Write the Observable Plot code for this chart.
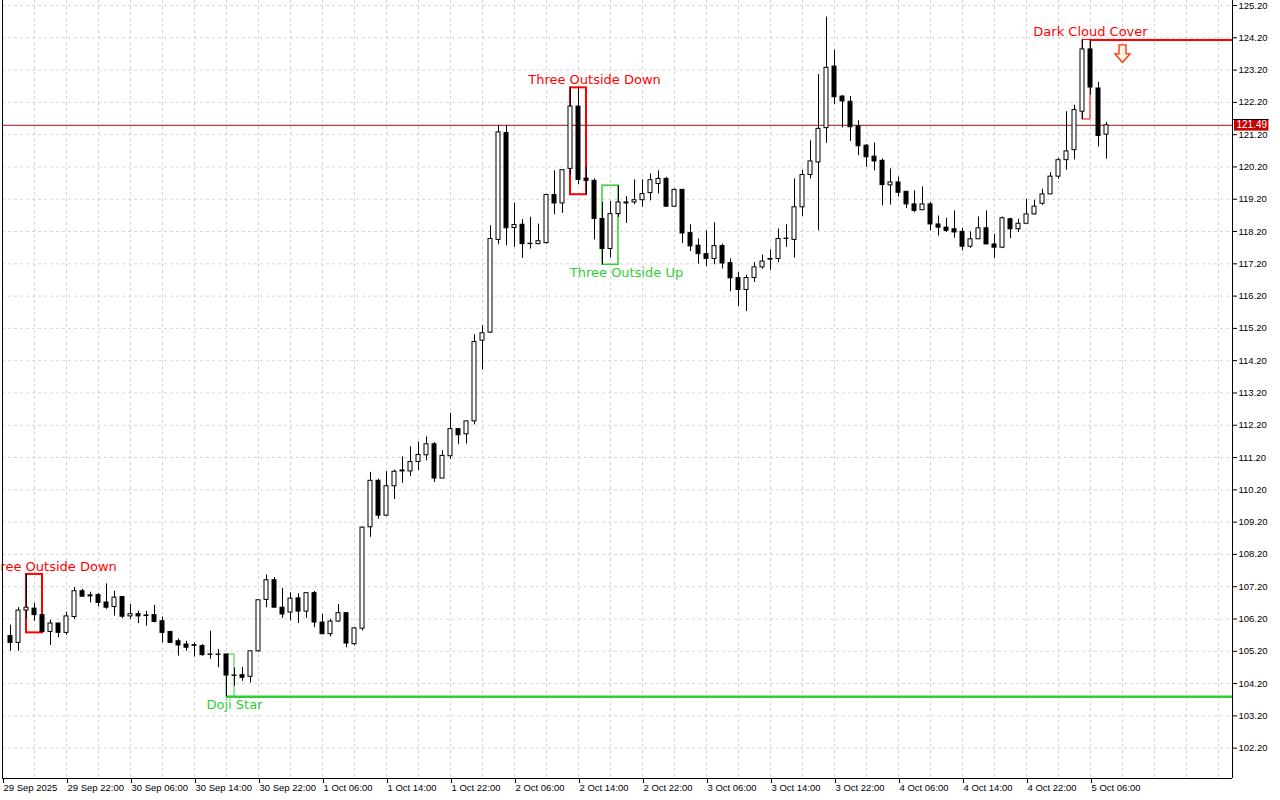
<!DOCTYPE html>
<html><head><meta charset="utf-8">
<script src="https://cdn.jsdelivr.net/npm/d3@7"></script>
<script src="https://cdn.jsdelivr.net/npm/@observablehq/plot@0.6"></script>
<style>html,body{margin:0;padding:0;background:#fff;} #chart svg{display:block;background:#fff}</style>
</head><body><div id="chart"></div>
<script>
// hourly candles, index 0 = 29 Sep 2025 14:00 (first visible = index 1)
const firstIndex = 1;
const opens = [105.67,105.46,106.46,106.52,106.32,105.80,106.06,105.77,106.26,107.06,106.93,106.94,106.71,106.57,106.88,106.28,106.35,106.31,106.32,106.13,105.80,105.51,105.41,105.39,105.36,105.10,105.10,105.10,104.45,104.46,104.41,105.20,106.79,107.40,106.55,106.40,106.84,106.43,107.00,106.09,105.73,106.12,106.38,105.42,105.90,109.04,110.48,109.40,110.31,110.80,110.77,111.06,111.27,111.61,110.55,111.24,112.08,111.92,112.32,114.82,115.07,117.94,121.25,118.31,118.41,117.82,117.81,117.84,119.33,119.07,120.14,122.07,119.84,119.77,118.59,117.66,118.74,119.10,119.10,119.17,119.39,119.67,119.83,118.97,119.49,118.15,117.76,117.50,117.35,117.75,117.22,116.76,116.39,116.76,117.09,117.35,117.35,117.97,117.94,118.95,119.95,120.34,121.40,123.31,122.38,122.22,121.46,120.86,120.52,120.39,119.63,119.72,119.43,119.04,118.86,119.04,118.42,118.32,118.27,118.19,117.73,117.96,118.30,117.80,117.70,118.58,118.27,118.44,118.73,119.06,119.35,119.90,120.41,120.72,121.91,123.84,122.63,121.20];
const highs = [106.01,106.55,107.58,106.68,106.35,106.16,106.06,106.41,107.17,107.12,107.03,106.99,107.29,107.06,106.88,106.65,106.44,106.44,106.62,106.26,105.80,105.58,105.51,105.46,105.41,105.82,105.25,105.10,104.69,104.70,105.20,106.78,107.56,107.48,107.15,107.01,106.98,107.00,107.05,106.34,106.19,106.65,106.40,105.93,109.05,110.74,110.53,110.76,110.81,111.22,111.53,111.68,111.84,111.66,111.41,112.57,112.08,112.33,115.00,115.28,118.38,121.48,121.48,119.08,118.57,118.64,118.43,119.35,120.08,120.10,122.65,122.65,120.19,119.83,119.10,119.13,119.62,119.28,119.80,119.80,119.98,120.08,119.88,119.52,119.49,118.41,117.97,118.22,118.47,117.81,117.35,116.93,116.85,117.24,117.47,117.63,118.28,118.41,119.83,120.10,121.01,123.06,124.84,123.82,122.41,122.38,121.63,120.89,120.94,120.45,120.14,119.89,119.43,119.46,119.58,119.10,118.68,118.61,118.84,118.30,118.19,118.65,118.84,118.11,118.65,118.61,118.58,119.20,119.17,119.51,120.02,120.47,121.91,122.11,124.13,124.13,122.82,121.58];
const lows = [105.20,105.20,106.20,106.13,105.77,105.38,105.62,105.70,106.19,106.88,106.70,106.58,106.50,106.29,106.21,106.19,106.06,105.98,106.08,105.46,105.44,105.05,105.20,105.02,105.05,104.95,104.69,103.79,104.12,104.27,104.22,105.17,106.55,106.55,106.22,106.14,106.06,106.22,105.93,105.71,105.64,106.09,105.31,105.37,105.83,108.73,109.29,109.37,109.90,110.40,110.61,110.79,111.10,110.43,110.55,111.14,111.61,111.62,112.21,113.91,115.04,117.79,117.76,117.71,117.37,117.66,117.79,117.81,118.72,118.76,119.93,119.65,119.34,117.94,117.17,117.38,118.64,118.45,119.03,118.95,119.15,119.36,118.95,118.95,117.83,117.58,117.19,117.11,117.17,117.04,116.34,115.88,115.72,116.62,117.03,117.00,117.24,117.71,117.38,118.67,119.83,118.22,120.93,122.13,121.41,120.99,120.55,120.19,120.08,119.00,119.02,119.27,118.91,118.78,118.86,118.22,118.06,118.17,117.99,117.60,117.68,117.96,117.80,117.37,117.67,117.98,118.17,118.44,118.71,119.01,119.35,119.82,120.10,120.42,121.67,122.42,120.82,120.44];
const closes = [105.46,106.46,106.55,106.32,105.80,106.06,105.77,106.28,107.06,106.89,106.90,106.70,106.55,106.86,106.27,106.35,106.28,106.29,106.11,105.77,105.46,105.38,105.31,105.37,105.08,105.09,105.09,104.45,104.44,104.38,105.20,106.78,107.40,106.55,106.34,106.83,106.43,107.00,106.09,105.73,106.12,106.38,105.44,105.91,109.03,110.48,109.40,110.31,110.76,110.77,111.06,111.28,111.61,110.55,111.25,112.08,111.89,112.32,114.78,115.05,117.97,121.27,118.30,118.40,117.81,117.81,117.90,119.33,119.07,120.10,122.07,119.80,119.77,118.59,117.66,118.74,119.10,119.07,119.17,119.36,119.79,119.83,118.97,119.49,118.14,117.74,117.50,117.35,117.75,117.21,116.75,116.39,116.76,117.09,117.27,117.33,117.97,117.98,118.95,119.95,120.37,121.38,123.27,122.36,122.23,121.43,120.84,120.50,120.37,119.64,119.72,119.40,119.04,118.84,119.04,118.42,118.32,118.22,118.17,117.73,117.96,118.30,117.80,117.70,118.61,118.27,118.44,118.73,118.97,119.35,119.90,120.41,120.68,121.96,123.84,122.66,121.16,121.49];

const timeTickIdx = [0,8,16,24,32,40,48,56,64,72,80,88,96,104,112,120,128,136];
const timeLabels = ["29 Sep 2025","29 Sep 22:00","30 Sep 06:00","30 Sep 14:00","30 Sep 22:00","1 Oct 06:00","1 Oct 14:00","1 Oct 22:00","2 Oct 06:00","2 Oct 14:00","2 Oct 22:00","3 Oct 06:00","3 Oct 14:00","3 Oct 22:00","4 Oct 06:00","4 Oct 14:00","4 Oct 22:00","5 Oct 06:00"];
const priceTicks = d3.range(0, 24).map(k => +(102.2 + k).toFixed(2));

const patternNames = ["Three Outside Down","Doji Star","Three Outside Down","Three Outside Up","Dark Cloud Cover"];
const patternStart = [3, 28, 71, 75, 135];
const patternEnd = [5, 29, 73, 77, 136];
const patternLabelAt = [6, 29, 74, 78, 136];
const patternBullish = [false, true, false, true, false];
const patternBoxWidth = [2, 1, 2, 1.5, 1];

const levelStart = [28, 136];
const levelPrice = [103.79, 124.13];
const levelBullish = [true, false];

const signalIdx = [140];
const signalPrice = [123.70];

const lastPrice = 121.49;

const RED = "#ff0000", GREEN = "#32cd32";

const candles = opens.map((o, k) => {
  const c = closes[k];
  return {i: firstIndex + k, open: o, high: highs[k], low: lows[k], close: c,
          top: Math.max(o, c), bot: Math.min(o, c), up: c >= o};
});
const byIdx = new Map(candles.map(c => [c.i, c]));
const patterns = patternNames.map((name, k) => {
  const seg = d3.range(patternStart[k], patternEnd[k] + 1).map(i => byIdx.get(i));
  return {name, x1: patternStart[k], x2: patternEnd[k], at: patternLabelAt[k],
          hi: d3.max(seg, d => d.high), lo: d3.min(seg, d => d.low),
          color: patternBullish[k] ? GREEN : RED, sw: patternBoxWidth[k], bull: patternBullish[k]};
});
const levels = levelStart.map((s, k) => ({x1: s, y: levelPrice[k], color: levelBullish[k] ? GREEN : RED}));
const signals = signalIdx.map((s, k) => ({x: s, y: signalPrice[k]}));

// hollow down-arrow symbol (shape only, sized in pixels)
const downArrow = {
  draw(ctx) {
    ctx.moveTo(-3.5, -9); ctx.lineTo(3.5, -9); ctx.lineTo(3.5, 0); ctx.lineTo(7.5, 0);
    ctx.lineTo(0, 8.5); ctx.lineTo(-7.5, 0); ctx.lineTo(-3.5, 0); ctx.closePath();
  }
};

const XMAX = 153.75, YMIN = 101.26, YMAX = 125.355;
const labelMap = new Map(timeTickIdx.map((d, k) => [d, timeLabels[k]]));

const plot = Plot.plot({
  width: 1280, height: 800,
  marginTop: 0, marginBottom: 22, marginLeft: 2, marginRight: 48,
  x: {domain: [0, XMAX], axis: null},
  y: {domain: [YMIN, YMAX], axis: null},
  style: {fontFamily: "'Liberation Sans', Arial, sans-serif", fontSize: "9.5px", background: "#fff", color: "#000"},
  marks: [
    Plot.gridY(priceTicks, {stroke: "#d6d6d6", strokeOpacity: 1, strokeDasharray: "3,3"}),
    Plot.gridX(d3.range(0, 154, 4), {stroke: "#d6d6d6", strokeOpacity: 1, strokeDasharray: "3,3"}),
    // pattern boxes
    Plot.rect(patterns, {x1: "x1", x2: "x2", y1: "lo", y2: "hi", fill: "none", stroke: "color", strokeWidth: "sw"}),
    // level lines
    Plot.ruleY(levels.filter(d => d.color === GREEN), {y: "y", x1: "x1", x2: XMAX, stroke: GREEN, strokeWidth: 2.5}),
    Plot.ruleY(levels.filter(d => d.color === RED), {y: "y", x1: "x1", x2: XMAX, stroke: RED, strokeWidth: 2}),
    // last price line
    Plot.ruleY([lastPrice], {x1: 0, x2: XMAX, stroke: "#9a1010", strokeWidth: 1}),
    // wicks
    Plot.ruleX(candles, {x: "i", y1: "low", y2: "high", stroke: "#000", strokeWidth: 1}),
    // bodies
    Plot.rect(candles, {x1: d => d.i - 0.25, x2: d => d.i + 0.25, y1: "bot", y2: "top",
      fill: d => d.up ? "#fff" : "#000", stroke: "#000", strokeWidth: 1}),
    // pattern labels
    Plot.text(patterns.filter(d => !d.bull), {x: "at", y: "hi", text: "name", fill: "color", dy: -8,
      fontFamily: "'DejaVu Sans', sans-serif", fontSize: 13, lineAnchor: "middle"}),
    Plot.text(patterns.filter(d => d.bull), {x: "at", y: "lo", text: "name", fill: "color", dy: 8,
      fontFamily: "'DejaVu Sans', sans-serif", fontSize: 13, lineAnchor: "middle"}),
    // signal arrow
    Plot.dot(signals, {x: "x", y: "y", symbol: downArrow, r: 9, fill: "#fff3e6", stroke: "#ff2a00", strokeWidth: 1.3}),
    // frame
    Plot.ruleX([0], {stroke: "#000"}),
    Plot.ruleX([XMAX], {stroke: "#000"}),
    Plot.ruleY([YMIN], {stroke: "#000"}),
    // axes
    Plot.axisY(priceTicks, {anchor: "right", tickSize: 4, tickPadding: 2, tickFormat: d => d.toFixed(2), fill: "#000", stroke: "#000"}),
    Plot.axisX(timeTickIdx, {anchor: "bottom", tickSize: 5, tickPadding: 1, tickFormat: d => labelMap.get(d), textAnchor: "start", dx: 1, fill: "#000", stroke: "#000"}),
    // last price label
    Plot.rect([lastPrice], {x1: 154, x2: 158.3, y1: d => d - 0.18, y2: d => d + 0.18, fill: "#c80000"}),
    Plot.ruleY([lastPrice + 0.18], {x1: 153.75, x2: 158.3, stroke: "#000"}),
    Plot.text([lastPrice], {x: 154.25, y: d => d, text: d => d.toFixed(2), fill: "#fff", textAnchor: "start", fontSize: 10, fontFamily: "'Liberation Sans', Arial, sans-serif"})
  ]
});
document.getElementById("chart").appendChild(plot);
</script>
</body></html>
